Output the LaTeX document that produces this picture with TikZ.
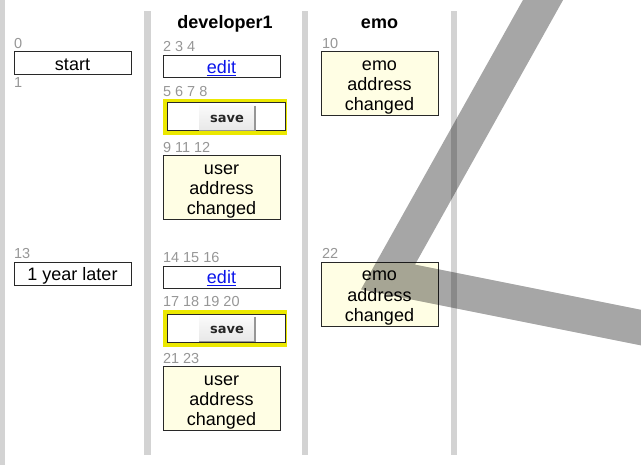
\documentclass[tikz,border=0pt]{standalone}
\usepackage{fontspec}
\setmainfont{Liberation Sans}
\newfontfamily\btnfont{DejaVu Sans}
\definecolor{lanegray}{RGB}{211,211,211}
\definecolor{boxline}{RGB}{40,40,40}
\definecolor{notefill}{RGB}{255,254,228}
\definecolor{hilite}{RGB}{235,232,0}
\definecolor{numgray}{RGB}{150,150,150}
\definecolor{linkblue}{RGB}{10,20,235}
\definecolor{btntop}{RGB}{250,250,250}
\definecolor{btnbot}{RGB}{232,232,232}
\definecolor{btnedge}{RGB}{150,150,150}
\begin{document}
\begin{tikzpicture}[x=1pt,y=-1pt,
  every node/.style={inner sep=0pt,outer sep=0pt},
  lane/.style={fill=lanegray,draw=none},
  frame/.style 2 args={anchor=north west,minimum width=#1,minimum height=#2},
  plainbox/.style={draw=boxline,line width=1pt,fill=white},
  notebox/.style={draw=boxline,line width=1pt,fill=notefill},
  hibox/.style={fill=hilite,draw=none},
  btn/.style={top color=btntop,bottom color=btnbot,draw=none},
  btnshade/.style={draw=btnedge,line width=1.2pt},
  txt/.style={font=\fontsize{18}{20}\selectfont,anchor=base,text=black},
  head/.style={font=\fontsize{18}{20}\selectfont\bfseries,anchor=base},
  num/.style={font=\fontsize{14.5}{16}\selectfont,anchor=base west,text=numgray},
  btntxt/.style={font=\btnfont\bfseries\fontsize{13}{15}\selectfont,anchor=base,text=black!85},
  link/.style={font=\fontsize{18}{20}\selectfont,anchor=base,text=linkblue},
  band/.style={draw=black,draw opacity=0.35,line width=35pt,line join=miter}]
\useasboundingbox (0,0) rectangle (641,465);

% swimlane separators
\fill[lane] (0,0) rectangle (5,465);
\fill[lane] (144,11) rectangle (151,455);
\fill[lane] (302,11) rectangle (308,455);
\fill[lane] (451,11) rectangle (457,455);

% lane headers
\node[head] (h-dev) at (225,28.5) {developer1};
\node[head] (h-emo) at (379.5,28.5) {emo};

% ---- first round ----
\node[num] (n0) at (14,49) {0};
\node[plainbox,frame={117}{23}] (start) at (14,52) {};
\node[txt] (start-t) at (72.5,70.7) {start};
\node[num] (n1) at (14,88) {1};

\node[num] (n234) at (163,52) {2 3 4};
\node[plainbox,frame={117}{22}] (edit1) at (163,56) {};
\node[link] (edit1-t) at (221.5,73.3) {\underline{edit}};

\node[num] (n5678) at (163,97) {5 6 7 8};
\node[hibox,frame={124}{36}] (save1-h) at (163,99) {};
\node[plainbox,frame={118}{28}] (save1-f) at (167,103) {};
\node[btn,frame={56}{24.5}] (save1-b) at (199,105.7) {};
\draw[btnshade] (save1-b.north east) -- (save1-b.south east) -- (save1-b.south west);
\node[btntxt] (save1-t) at (227,122.3) {save};

\node[num] (n91112) at (163,153) {9 11 12};
\node[notebox,frame={117}{64}] (user1) at (163,156) {};
\node[txt] (user1-a) at (221.5,174.5) {user};
\node[txt] (user1-b) at (221.5,195) {address};
\node[txt] (user1-c) at (221.5,215) {changed};

\node[num] (n10) at (322,49) {10};
\node[notebox,frame={117}{64}] (emo1) at (321,52) {};
\node[txt] (emo1-a) at (379.5,70.2) {emo};
\node[txt] (emo1-b) at (379.5,90.7) {address};
\node[txt] (emo1-c) at (379.5,110.7) {changed};

% ---- one year later ----
\node[num] (n13) at (14,259) {13};
\node[plainbox,frame={117}{23}] (later) at (14,263) {};
\node[txt] (later-t) at (72.5,280.7) {1 year later};

\node[num] (n141516) at (163,263) {14 15 16};
\node[plainbox,frame={117}{22}] (edit2) at (163,267) {};
\node[link] (edit2-t) at (221.5,283.6) {\underline{edit}};

\node[num] (n17181920) at (163,307) {17 18 19 20};
\node[hibox,frame={124}{37}] (save2-h) at (163,310) {};
\node[plainbox,frame={118}{28}] (save2-f) at (167,314.5) {};
\node[btn,frame={56}{24.5}] (save2-b) at (199,316.7) {};
\draw[btnshade] (save2-b.north east) -- (save2-b.south east) -- (save2-b.south west);
\node[btntxt] (save2-t) at (227,333.3) {save};

\node[num] (n2123) at (163,364) {21 23};
\node[notebox,frame={117}{64}] (user2) at (163,367) {};
\node[txt] (user2-a) at (221.5,385.3) {user};
\node[txt] (user2-b) at (221.5,405.7) {address};
\node[txt] (user2-c) at (221.5,425.7) {changed};

\node[num] (n22) at (322,259) {22};
\node[notebox,frame={117}{64}] (emo2) at (321,263) {};
\node[txt] (emo2-a) at (379.5,280.9) {emo};
\node[txt] (emo2-b) at (379.5,301.4) {address};
\node[txt] (emo2-c) at (379.5,321.4) {changed};

% translucent check stroke over the lanes
\draw[band] (565.4,-40) -- (388,277) -- (681,335.6);
\end{tikzpicture}
\end{document}
